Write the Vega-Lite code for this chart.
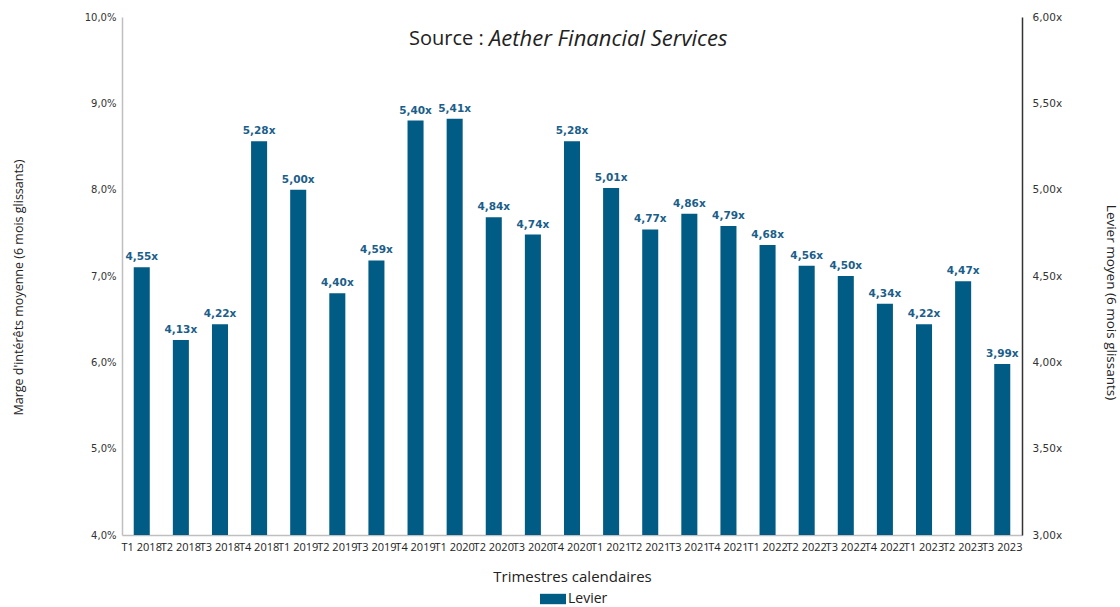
{
  "$schema": "https://vega.github.io/schema/vega-lite/v6.json",
  "width": 900,
  "height": 518,
  "autosize": {"type": "none"},
  "padding": {"left": 122, "top": 17, "right": 98, "bottom": 72},
  "background": "white",
  "config": {
    "locale": {"number": {"decimal": ",", "thousands": "\u00a0", "grouping": [3], "currency": ["", "x"], "percent": "%"}},
    "view": {"stroke": null},
    "font": "Open Sans"
  },
  "title": {
    "text": "Source :",
    "subtitle": "\u200b\u00a0\u00a0\u00a0\u00a0\u00a0\u00a0\u00a0\u00a0\u00a0\u00a0\u00a0\u00a0\u00a0\u00a0Aether Financial Services",
    "anchor": "start",
    "frame": "group",
    "dx": 287,
    "offset": -39,
    "baseline": "top",
    "font": "Open Sans",
    "fontSize": 20,
    "fontWeight": "normal",
    "color": "#222222",
    "subtitleFont": "Open Sans",
    "subtitleFontSize": 22,
    "subtitleFontStyle": "italic",
    "subtitleColor": "#222222",
    "subtitlePadding": -20
  },
  "data": {
    "values": [
      {"Trimestre": "T1 2018", "Levier": 4.55},
      {"Trimestre": "T2 2018", "Levier": 4.13},
      {"Trimestre": "T3 2018", "Levier": 4.22},
      {"Trimestre": "T4 2018", "Levier": 5.28},
      {"Trimestre": "T1 2019", "Levier": 5.00},
      {"Trimestre": "T2 2019", "Levier": 4.40},
      {"Trimestre": "T3 2019", "Levier": 4.59},
      {"Trimestre": "T4 2019", "Levier": 5.40},
      {"Trimestre": "T1 2020", "Levier": 5.41},
      {"Trimestre": "T2 2020", "Levier": 4.84},
      {"Trimestre": "T3 2020", "Levier": 4.74},
      {"Trimestre": "T4 2020", "Levier": 5.28},
      {"Trimestre": "T1 2021", "Levier": 5.01},
      {"Trimestre": "T2 2021", "Levier": 4.77},
      {"Trimestre": "T3 2021", "Levier": 4.86},
      {"Trimestre": "T4 2021", "Levier": 4.79},
      {"Trimestre": "T1 2022", "Levier": 4.68},
      {"Trimestre": "T2 2022", "Levier": 4.56},
      {"Trimestre": "T3 2022", "Levier": 4.50},
      {"Trimestre": "T4 2022", "Levier": 4.34},
      {"Trimestre": "T1 2023", "Levier": 4.22},
      {"Trimestre": "T2 2023", "Levier": 4.47},
      {"Trimestre": "T3 2023", "Levier": 3.99}
    ]
  },
  "encoding": {
    "x": {
      "field": "Trimestre",
      "type": "ordinal",
      "sort": null,
      "scale": {"paddingInner": 0.59, "paddingOuter": 0.3},
      "axis": {
        "title": "Trimestres calendaires",
        "titleFont": "Open Sans",
        "titleFontSize": 15,
        "titleFontWeight": "normal",
        "titleColor": "#222222",
        "titlePadding": 17,
        "labelAngle": 0,
        "labelFont": "Open Sans",
        "labelFontSize": 11,
        "labelColor": "#222222",
        "labelOverlap": false,
        "labelPadding": 6,
        "ticks": false,
        "domainColor": "#bfbfbf",
        "domainWidth": 1.5
      }
    }
  },
  "layer": [
    {
      "mark": {"type": "point", "opacity": 0},
      "encoding": {
        "y": {
          "datum": 0.04,
          "type": "quantitative",
          "scale": {"domain": [0.04, 0.10], "nice": false, "zero": false},
          "axis": {
            "orient": "left",
            "title": "Marge d'intérêts moyenne (6 mois glissants)",
            "titleFont": "Open Sans",
            "titleFontSize": 12.5,
            "titleFontWeight": "normal",
            "titleColor": "#222222",
            "titlePadding": 59,
            "titleY": 270,
            "format": ".1%",
            "values": [0.04, 0.05, 0.06, 0.07, 0.08, 0.09, 0.10],
            "labelFont": "DejaVu Sans",
            "labelFontSize": 10,
            "labelColor": "#333333",
            "labelPadding": 6,
            "ticks": false,
            "grid": false,
            "domainColor": "#bfbfbf",
            "domainWidth": 1.5
          }
        }
      }
    },
    {
      "mark": {"type": "bar", "color": "#005b85", "clip": true},
      "encoding": {
        "y": {
          "field": "Levier",
          "type": "quantitative",
          "scale": {"domain": [3, 6], "nice": false, "zero": false},
          "axis": {
            "orient": "right",
            "title": "Levier moyen (6 mois glissants)",
            "titleFont": "Open Sans",
            "titleFontSize": 13.5,
            "titleFontWeight": "normal",
            "titleColor": "#222222",
            "titlePadding": 42,
            "titleY": 285,
            "format": "$.2f",
            "values": [3, 3.5, 4, 4.5, 5, 5.5, 6],
            "labelFont": "DejaVu Sans",
            "labelFontSize": 10.5,
            "labelColor": "#333333",
            "labelPadding": 10,
            "ticks": false,
            "grid": false,
            "domainColor": "#333333",
            "domainWidth": 1.5
          }
        },
        "color": {
          "datum": "Levier",
          "scale": {"range": ["#005b85"]},
          "legend": {
            "title": null,
            "orient": "none",
            "legendX": 418,
            "legendY": 569,
            "symbolType": "M-1,-0.4H1V0.4H-1Z",
            "symbolSize": 676,
            "symbolStrokeWidth": 0,
            "symbolOpacity": 1,
            "labelFont": "Open Sans",
            "labelFontSize": 14,
            "labelColor": "#222222",
            "labelOffset": 2
          }
        }
      }
    },
    {
      "mark": {"type": "text", "baseline": "bottom", "dy": -5, "font": "DejaVu Sans", "fontSize": 10.5, "fontWeight": "bold", "color": "#1a5e8a"},
      "encoding": {
        "y": {"field": "Levier", "type": "quantitative", "scale": {"domain": [3, 6], "nice": false, "zero": false}, "axis": null},
        "text": {"field": "Levier", "type": "quantitative", "format": "$.2f"}
      }
    }
  ],
  "resolve": {"scale": {"y": "independent"}, "axis": {"y": "independent"}}
}
